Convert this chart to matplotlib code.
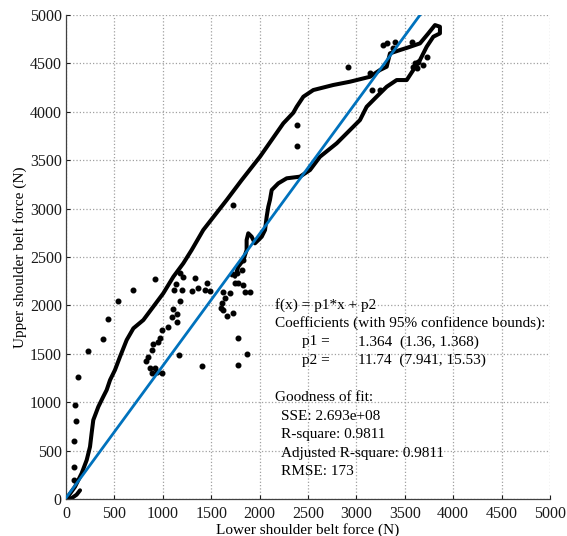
import matplotlib
matplotlib.use('Agg')
import matplotlib.pyplot as plt

# Dense measured trace (upper branch -> top loop -> lower branch), in N
trace_x = [7, 93, 162, 214, 248, 265, 282, 334, 385, 420, 455, 506, 558, 627, 696,
           799, 902, 1005, 1109, 1212, 1298, 1418, 1660, 1815, 2004, 2245, 2348, 2383,
           2452, 2555, 2761, 2934, 3140, 3244, 3313, 3347, 3450, 3520, 3657, 3743, 3812,
           3863, 3863, 3795, 3726, 3657, 3588, 3520, 3416, 3313, 3209, 3106, 3037, 2934,
           2796, 2624, 2521, 2417, 2280, 2193, 2125, 2107, 2090, 2073, 2056, 2022, 1987,
           1952, 1918, 1883, 1866, 1866, 1832, 1780, 1746]
trace_y = [7, 127, 266, 403, 540, 682, 816, 953, 1057, 1126, 1229, 1333, 1470, 1643, 1763,
           1849, 1987, 2125, 2296, 2435, 2572, 2779, 3089, 3295, 3536, 3881, 3990, 4052,
           4156, 4225, 4277, 4311, 4362, 4432, 4466, 4604, 4638, 4660, 4707, 4810, 4896,
           4879, 4810, 4776, 4672, 4535, 4432, 4328, 4328, 4259, 4156, 4052, 3915, 3812,
           3674, 3536, 3399, 3330, 3313, 3261, 3192, 3089, 3020, 2916, 2779, 2710, 2675,
           2641, 2710, 2745, 2675, 2572, 2469, 2400, 2296]

# small hook at the origin
start_x = [0, 60, 110, 145]
start_y = [0, 10, 45, 90]

# isolated samples
dots_x = [83, 83, 83, 103, 96, 124, 231, 379, 431, 534, 695, 919,
          1832, 1815, 1763, 1711, 1746, 1780, 1832, 1849, 1901, 1618, 1694, 1642, 1608,
          1598, 1625, 1728, 1660, 1780, 1866, 1773, 1402, 1170,
          1178, 1212, 1333, 1136, 1116, 1195, 1298, 1360, 1453, 1436, 1487, 1178, 1109,
          1143, 1150, 1092, 1057, 988, 971, 954, 902, 885, 850, 826, 868, 919, 937, 995, 885,
          1728, 2383, 2390, 2917, 3140, 3244, 3158, 3313, 3399, 3278, 3381, 3571, 3640,
          3691, 3588, 3605, 3623, 3726]
dots_y = [196, 334, 599, 806, 971, 1263, 1526, 1653, 1860, 2042, 2159, 2273,
          2469, 2366, 2331, 2321, 2228, 2234, 2211, 2142, 2142, 2138, 2125, 2073, 2028,
          1970, 1952, 1925, 1890, 1666, 1498, 1384, 1374, 1488,
          2338, 2296, 2280, 2218, 2159, 2159, 2149, 2176, 2234, 2159, 2149, 2048, 1960,
          1911, 1832, 1877, 1780, 1746, 1666, 1625, 1601, 1539, 1470, 1426, 1350, 1350, 1315, 1298, 1305,
          3037, 3863, 3646, 4466, 4397, 4225, 4225, 4707, 4724, 4690, 4655, 4724, 4518,
          4483, 4466, 4501, 4449, 4569]

# linear fit f(x) = p1*x + p2
p1 = 1.364
p2 = 11.74
fit_x = [0, 3657]

ticks = [0, 500, 1000, 1500, 2000, 2500, 3000, 3500, 4000, 4500, 5000]

plt.rcParams['font.family'] = ['Liberation Serif', 'DejaVu Serif']

fig = plt.figure(figsize=(5.67, 5.36), dpi=100)
ax = fig.add_axes([0.1164, 0.069, 0.8536, 0.903])

ax.plot(trace_x, trace_y, color='black', linewidth=2.9, solid_capstyle='round',
        solid_joinstyle='round', zorder=2)
ax.plot(start_x, start_y, color='black', linewidth=2.9, solid_capstyle='round', zorder=2)
ax.plot(dots_x, dots_y, linestyle='none', marker='o', markersize=3.3, color='black', zorder=2)

fit_y = [p1 * v + p2 for v in fit_x]
ax.plot(fit_x, fit_y, color='#0072BD', linewidth=2.0, zorder=3)

ax.set_xlim(0, 5000)
ax.set_ylim(0, 5000)
ax.set_xticks(ticks)
ax.set_yticks(ticks)
ax.tick_params(direction='in', length=3, width=0.8, labelsize=11.5, colors='#1a1a1a')
ax.tick_params(axis='y', pad=3)
ax.tick_params(axis='x', pad=5)
ax.grid(True, linestyle=':', color='#a0a0a0', linewidth=0.9)
for side in ['top', 'right']:
    ax.spines[side].set_visible(False)
for side in ['left', 'bottom']:
    ax.spines[side].set_color('#404040')
    ax.spines[side].set_linewidth(0.9)

ax.set_xlabel('Lower shoulder belt force (N)', fontsize=11, labelpad=1)
ax.set_ylabel('Upper shoulder belt force (N)', fontsize=11, labelpad=2)

# fit summary: (x position in px, row, text)
info = [
    (275, 0, 'f(x) = p1*x + p2'),
    (275, 1, 'Coefficients (with 95% confidence bounds):'),
    (302, 2, 'p1 ='),
    (358, 2, '1.364  (1.36, 1.368)'),
    (302, 3, 'p2 ='),
    (358, 3, '11.74  (7.941, 15.53)'),
    (275, 5, 'Goodness of fit:'),
    (281, 6, 'SSE: 2.693e+08'),
    (281, 7, 'R-square: 0.9811'),
    (281, 8, 'Adjusted R-square: 0.9811'),
    (281, 9, 'RMSE: 173'),
]
y0 = 305
for px, row, line in info:
    fig.text(px / 567, 1 - (y0 + row * 18.5) / 536, line, fontsize=11,
             va='center', ha='left', color='black')

fig.savefig('out.png', dpi=100)
